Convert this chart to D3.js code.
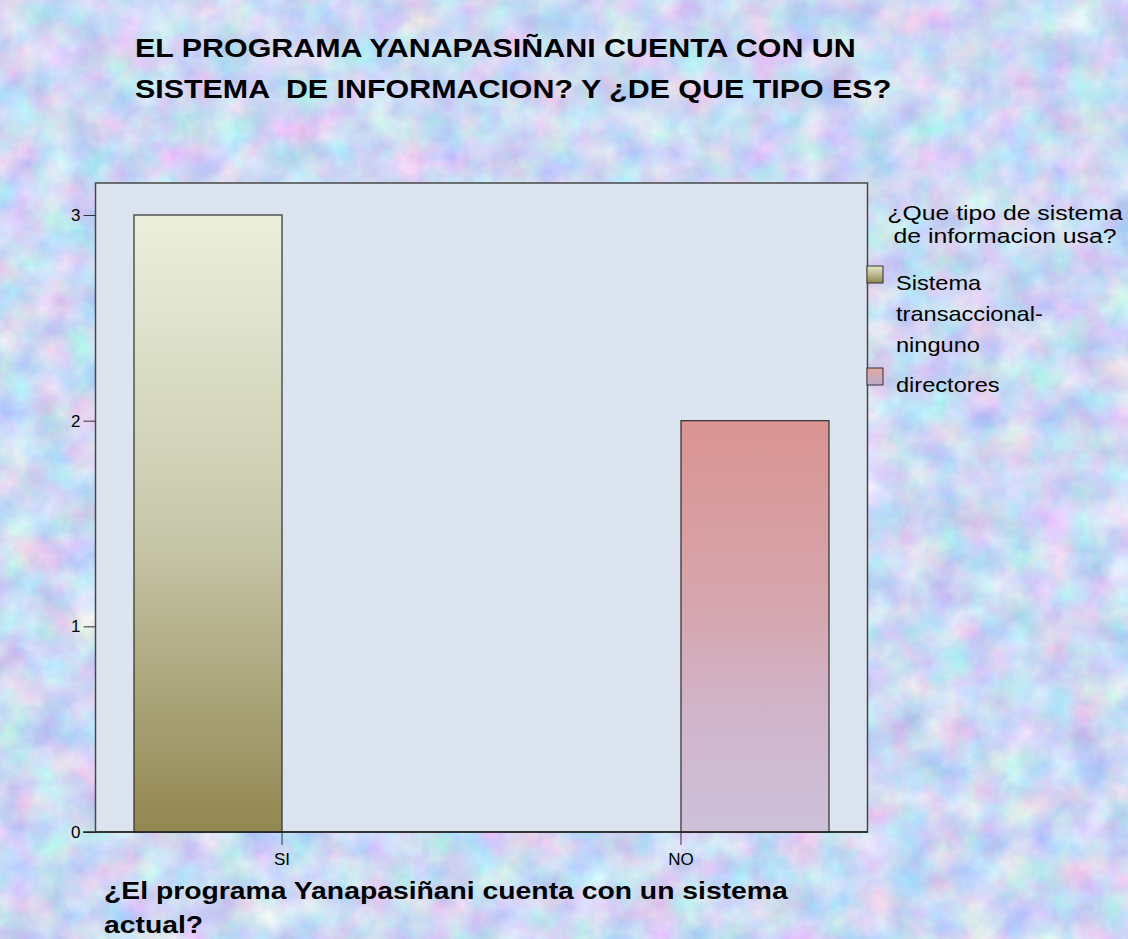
<!DOCTYPE html>
<html>
<head>
<meta charset="utf-8">
<script src="https://cdn.jsdelivr.net/npm/d3@7"></script>
<style>
  html, body { margin: 0; padding: 0; background: #cdd9f3; }
  svg { display: block; font-family: "Liberation Sans", Arial, sans-serif; }
  text { white-space: pre; }
</style>
</head>
<body>
<svg id="chart" width="1128" height="939"></svg>
<script>
// ---- data ----
const titleLines = ["EL PROGRAMA YANAPASIÑANI CUENTA CON UN", "SISTEMA  DE INFORMACION? Y ¿DE QUE TIPO ES?"];
const categories = ["SI", "NO"];
const seriesNames = ["Sistema transaccional-ninguno", "directores"];
const valuesSistema = [3, 0];
const valuesDirectores = [0, 2];
const yTicks = [0, 1, 2, 3];
const legendTitleLines = ["¿Que tipo de sistema", "de informacion usa?"];
const legendLabelLines = [["Sistema", "transaccional-", "ninguno"], ["directores"]];
const xTitleLines = ["¿El programa Yanapasiñani cuenta con un sistema", "actual?"];

const W = 1128, H = 939;
const plot = { left: 95.5, right: 867.5, top: 183, bottom: 832 };

const svg = d3.select("#chart");
const defs = svg.append("defs");

// background texture
const f = defs.append("filter").attr("id", "tex")
  .attr("x", 0).attr("y", 0).attr("width", "100%").attr("height", "100%")
  .attr("color-interpolation-filters", "sRGB");
f.append("feTurbulence").attr("type", "fractalNoise").attr("baseFrequency", "0.028")
  .attr("numOctaves", 4).attr("seed", 11);
f.append("feColorMatrix").attr("type", "matrix")
  .attr("values", "0.4 0 0 0 0.6  0 0.32 0 0 0.69  0 0 0.15 0 0.88  0 0 0 0 1");

function grad(id, stops) {
  const g = defs.append("linearGradient").attr("id", id)
    .attr("x1", 0).attr("y1", 0).attr("x2", 0).attr("y2", 1);
  stops.forEach(s => g.append("stop").attr("offset", s[0]).attr("stop-color", s[1]));
}
grad("g0", [[0, "#ebf0dd"], [0.5, "#c9c9ad"], [1, "#928751"]]);
grad("g1", [[0, "#da9492"], [0.45, "#d6a6ae"], [0.72, "#d0b5cb"], [1, "#cdc1da"]]);
grad("lg0", [[0, "#e6eacb"], [1, "#8e8450"]]);
grad("lg1", [[0, "#e2a8a2"], [1, "#b9aacb"]]);
const fills = ["url(#g0)", "url(#g1)"];
const legFills = ["url(#lg0)", "url(#lg1)"];

svg.append("rect").attr("width", W).attr("height", H).attr("filter", "url(#tex)");

function stext(x, y, str, size, weight, anchor, sx) {
  return svg.append("text")
    .attr("transform", `translate(${x},${y}) scale(${sx || 1.18},1)`)
    .attr("font-size", size).attr("font-weight", weight || "normal")
    .attr("text-anchor", anchor || "start").attr("fill", "#000")
    .attr("xml:space", "preserve")
    .text(str);
}

// title
titleLines.forEach((t, i) => stext(135, 57 + i * 41, t, 26, "bold", "start", 1.17));

// scales
const x0 = d3.scaleBand().domain(categories).range([plot.left, plot.right])
  .paddingInner(0.258).paddingOuter(0.0965);
const x1 = d3.scaleBand().domain(seriesNames).range([0, x0.bandwidth()]);
const y = d3.scaleLinear().domain([0, 3]).range([plot.bottom, 215]);

// plot area
svg.append("rect").attr("x", plot.left).attr("y", plot.top)
  .attr("width", plot.right - plot.left).attr("height", plot.bottom - plot.top)
  .attr("fill", "#dce4f0").attr("stroke", "#474747").attr("stroke-width", 1.5);

// bars
const rows = categories.map((c, i) => ({ cat: c, vals: [valuesSistema[i], valuesDirectores[i]] }));
const gcat = svg.selectAll("g.cat").data(rows).join("g").attr("class", "cat")
  .attr("transform", d => `translate(${x0(d.cat)},0)`);
gcat.selectAll("rect").data(d => d.vals.map((v, k) => ({ v, k })).filter(e => e.v > 0))
  .join("rect")
  .attr("x", d => x1(seriesNames[d.k]))
  .attr("width", x1.bandwidth())
  .attr("y", d => y(d.v))
  .attr("height", d => y(0) - y(d.v))
  .attr("fill", d => fills[d.k])
  .attr("stroke", "#2e2e2e").attr("stroke-width", 1.2);

// y axis
const yAxis = svg.append("g").attr("transform", `translate(${plot.left},0)`)
  .call(d3.axisLeft(y).tickValues(yTicks).tickFormat(d3.format("d")).tickSize(12).tickPadding(3));
yAxis.select(".domain").remove();
yAxis.selectAll("line").attr("stroke", "#333");
yAxis.selectAll("text").attr("font-size", 17).attr("fill", "#000")
  .attr("font-family", "Liberation Sans, Arial, sans-serif");

// baseline
svg.append("line").attr("x1", 83).attr("x2", plot.right).attr("y1", plot.bottom).attr("y2", plot.bottom)
  .attr("stroke", "#222").attr("stroke-width", 1.5);

// x axis
const xAxis = svg.append("g").attr("transform", `translate(0,${plot.bottom})`)
  .call(d3.axisBottom(x0).tickSize(13).tickPadding(8));
xAxis.select(".domain").remove();
xAxis.selectAll("line").attr("stroke", "#333");
xAxis.selectAll("text").attr("font-size", 17).attr("fill", "#000")
  .attr("font-family", "Liberation Sans, Arial, sans-serif");

// x title
xTitleLines.forEach((t, i) => stext(104, 899 + i * 34, t, 24, "bold"));

// legend
legendTitleLines.forEach((t, i) => stext(1005, 220 + i * 23, t, 21, "normal", "middle"));
const legY = [266, 368];
const lineH = 31;
seriesNames.forEach((s, k) => {
  svg.append("rect").attr("x", 867).attr("y", legY[k]).attr("width", 16).attr("height", 17)
    .attr("fill", legFills[k]).attr("stroke", "#333").attr("stroke-width", 1);
  legendLabelLines[k].forEach((t, j) => stext(896, legY[k] + 24 + j * lineH, t, 20));
});
</script>
</body>
</html>
